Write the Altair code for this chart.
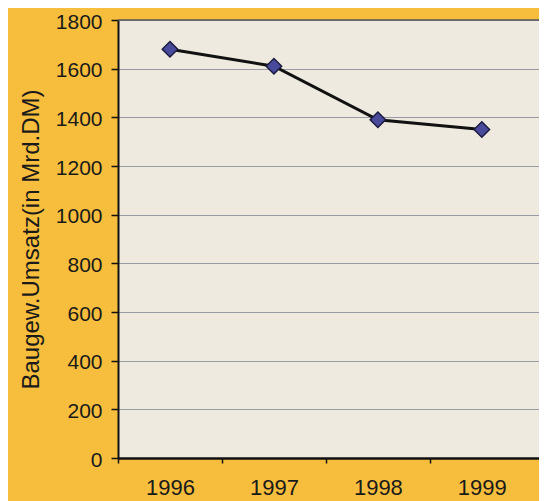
import altair as alt
import pandas as pd

# Data
years = [1996, 1997, 1998, 1999]
umsatz = [1680, 1610, 1390, 1350]
y_ticks = [0, 200, 400, 600, 800, 1000, 1200, 1400, 1600, 1800]

df = pd.DataFrame({"Jahr": years, "Umsatz": umsatz})

W, H = 421, 438
FONT = "Liberation Sans"
x_domain = [1995.5, 1999.55]
half_band = W / (x_domain[1] - x_domain[0]) / 2

x_enc = alt.X(
    "Jahr:Q",
    scale=alt.Scale(domain=x_domain, nice=False, zero=False),
    axis=alt.Axis(
        values=years, format="d", title=None, grid=False,
        tickOffset=-half_band, labelOffset=half_band,
        domainColor="#111111", domainWidth=2.5,
        tickColor="#111111", tickSize=5, tickWidth=1.5,
        labelFont=FONT, labelFontSize=22, labelColor="#1a1a1a",
        labelPadding=14,
    ),
)
y_enc = alt.Y(
    "Umsatz:Q",
    scale=alt.Scale(domain=[0, 1800], nice=False),
    axis=alt.Axis(
        values=y_ticks, format="d", title="Baugew.Umsatz(in Mrd.DM)",
        grid=True, gridColor="#9a9aa4", gridWidth=1,
        domainColor="#111111", domainWidth=2,
        tickColor="#111111", tickSize=7, tickWidth=1.5,
        labelFont=FONT, labelFontSize=21, labelColor="#1a1a1a", labelPadding=9,
        labelOffset=2,
        titleFont=FONT, titleFontSize=24, titleFontWeight="normal",
        titleColor="#1a1a1a", titlePadding=12,
    ),
)

line = alt.Chart(df).mark_line(color="#111111", strokeWidth=3).encode(x=x_enc, y=y_enc)
points = alt.Chart(df).mark_point(
    shape="diamond", filled=True, size=240, fill="#4a4a9c",
    stroke="#1c1c40", strokeWidth=1.5, opacity=1,
).encode(x=x_enc, y=y_enc)
top_line = alt.Chart(alt.Data(values=[{}])).mark_rule(
    color="#55555c", strokeWidth=1.5
).encode(y=alt.value(0), x=alt.value(0), x2=alt.value(W))

chart = (
    alt.layer(line, top_line, points)
    .properties(
        width=W, height=H,
        autosize=alt.AutoSizeParams(type="none"),
        padding={"left": 110, "top": 12, "right": 0, "bottom": 43},
    )
    .configure(background="#F6BE3C")
    .configure_view(fill="#EEEAE0", strokeWidth=0)
)

chart.save("out.html", embed_options={"renderer": "svg", "actions": False})
